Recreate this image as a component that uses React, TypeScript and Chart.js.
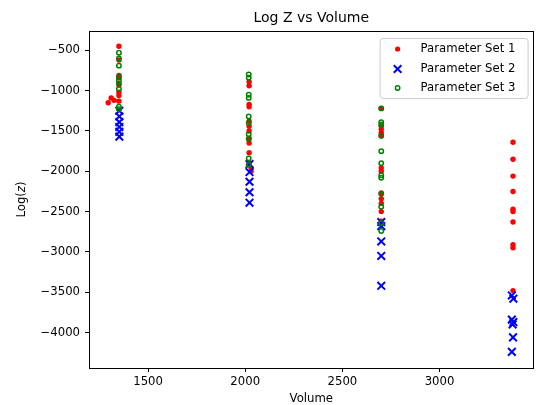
import React, { useEffect, useRef } from 'react';
import { Chart, registerables } from 'chart.js';

Chart.register(...registerables);

const chartTitle = 'Log Z vs Volume';
const xTitle = 'Volume';
const seriesNames = ['Parameter Set 1', 'Parameter Set 2', 'Parameter Set 3'];
const xTicks = [1500, 2000, 2500, 3000];
const yTicks = [-4000, -3500, -3000, -2500, -2000, -1500, -1000, -500];

const set1Volume = [
  1350, 1350, 1350, 1350, 1350, 1350, 1350, 1350, 1295, 1310, 1325,
  2020, 2020, 2020, 2020, 2020, 2020, 2020, 2020, 2020, 2020, 2020, 2030, 2030,
  2700, 2700, 2700, 2700, 2700, 2700, 2700, 2700, 2700, 2700, 2700, 2700,
  3378, 3378, 3378, 3378, 3378, 3378, 3378, 3378, 3378, 3378,
];
const set1LogZ = [
  -450, -620, -810, -840, -930, -1020, -1060, -1130, -1150, -1090, -1120,
  -890, -940, -1170, -1200, -1380, -1440, -1500, -1590, -1650, -1770, -1900, -1960, -2000,
  -1220, -1440, -1480, -1520, -1560, -1960, -2000, -2270, -2340, -2400, -2500, -2620,
  -1640, -1850, -2060, -2250, -2470, -2500, -2630, -2910, -2950, -3480,
];

const set2Volume = [
  1352, 1352, 1352, 1352, 1352, 1352,
  2022, 2022, 2022, 2022, 2022,
  2700, 2700, 2700, 2700, 2700,
  3372, 3380, 3372, 3380, 3376, 3378, 3372,
];
const set2LogZ = [
  -1250, -1320, -1390, -1450, -1510, -1570,
  -1910, -2010, -2130, -2260, -2390,
  -2630, -2680, -2870, -3050, -3420,
  -3540, -3580, -3840, -3870, -3900, -4060, -4240,
];

const set3Volume = [
  1350, 1350, 1350, 1350, 1350, 1350, 1350, 1350, 1350,
  2018, 2018, 2018, 2018, 2018, 2018, 2018, 2018, 2018, 2018,
  2700, 2700, 2700, 2700, 2700, 2700, 2700, 2700, 2700, 2700, 2700, 2700,
];
const set3LogZ = [
  -530, -600, -690, -830, -870, -910, -980, -1200, -1230,
  -800, -840, -1050, -1090, -1320, -1400, -1540, -1600, -1840, -1920,
  -1220, -1390, -1420, -1560, -1750, -1900, -2050, -2080, -2280, -2440, -2640, -2740,
];

const FONT = "'DejaVu Sans', sans-serif";
const RED = '#ff0000';
const BLUE = '#0000ff';
const GREEN = '#008000';

function toPoints(xs: number[], ys: number[]) {
  return xs.map((x, i) => ({ x, y: ys[i] }));
}

function fmt(v: number) {
  return String(v).replace('-', '\u2212');
}

export default function App() {
  const ref = useRef<HTMLCanvasElement>(null);

  useEffect(() => {
    document.body.style.margin = '0';
    const canvas = ref.current;
    if (!canvas) return;

    const decorPlugin = {
      id: 'decor',
      afterDraw(chart: any) {
        const { ctx, chartArea } = chart;
        const { left, right, top, bottom } = chartArea;
        ctx.save();
        ctx.strokeStyle = '#000';
        ctx.lineWidth = 1;
        ctx.strokeRect(Math.round(left) + 0.5, Math.round(top) + 0.5, Math.round(right - left) - 1, Math.round(bottom - top));

        ctx.fillStyle = '#000';
        ctx.font = `14px ${FONT}`;
        ctx.textAlign = 'center';
        ctx.textBaseline = 'middle';
        ctx.fillText(chartTitle, (left + right) / 2, 18);

        ctx.font = `11.7px ${FONT}`;
        ctx.fillText(xTitle, (left + right) / 2, 399);

        ctx.translate(22, (top + bottom) / 2);
        ctx.rotate(-Math.PI / 2);
        const parts = [
          { t: 'Log(', f: `11.7px ${FONT}` },
          { t: 'z', f: `oblique 11.7px ${FONT}` },
          { t: ')', f: `11.7px ${FONT}` },
        ];
        let total = 0;
        parts.forEach((p) => { ctx.font = p.f; total += ctx.measureText(p.t).width; });
        let cx = -total / 2;
        ctx.textAlign = 'left';
        parts.forEach((p) => {
          ctx.font = p.f;
          ctx.fillText(p.t, cx, 0);
          cx += ctx.measureText(p.t).width;
        });
        ctx.restore();

        ctx.save();
        const w = 148;
        const h = 60;
        const lx = right - 6 - w;
        const ly = top + 7;
        ctx.beginPath();
        if ((ctx as any).roundRect) (ctx as any).roundRect(lx + 0.5, ly + 0.5, w, h, 3);
        else ctx.rect(lx + 0.5, ly + 0.5, w, h);
        ctx.fillStyle = 'rgba(255,255,255,0.8)';
        ctx.fill();
        ctx.strokeStyle = '#cccccc';
        ctx.lineWidth = 1;
        ctx.stroke();
        const rows = [ly + 11, ly + 31, ly + 50];
        const mx = lx + 18;
        ctx.fillStyle = RED;
        ctx.beginPath();
        ctx.arc(mx, rows[0], 2.6, 0, Math.PI * 2);
        ctx.fill();
        ctx.strokeStyle = BLUE;
        ctx.lineWidth = 2;
        ctx.beginPath();
        ctx.moveTo(mx - 3.8, rows[1] - 3.8);
        ctx.lineTo(mx + 3.8, rows[1] + 3.8);
        ctx.moveTo(mx - 3.8, rows[1] + 3.8);
        ctx.lineTo(mx + 3.8, rows[1] - 3.8);
        ctx.stroke();
        ctx.strokeStyle = GREEN;
        ctx.lineWidth = 1.5;
        ctx.beginPath();
        ctx.arc(mx, rows[2], 2.2, 0, Math.PI * 2);
        ctx.stroke();
        ctx.fillStyle = '#000';
        ctx.font = `11.7px ${FONT}`;
        ctx.textAlign = 'left';
        ctx.textBaseline = 'middle';
        seriesNames.forEach((n, i) => ctx.fillText(n, lx + 41, rows[i]));
        ctx.restore();
      },
    };

    const chart = new Chart(canvas, {
      type: 'scatter',
      data: {
        datasets: [
          {
            label: seriesNames[0],
            data: toPoints(set1Volume, set1LogZ),
            pointStyle: 'circle',
            pointRadius: 2.7,
            backgroundColor: RED,
            borderColor: RED,
            borderWidth: 0,
            order: 3,
          },
          {
            label: seriesNames[1],
            data: toPoints(set2Volume, set2LogZ),
            pointStyle: 'crossRot',
            pointRadius: 5.4,
            backgroundColor: BLUE,
            borderColor: BLUE,
            borderWidth: 2,
            order: 2,
          },
          {
            label: seriesNames[2],
            data: toPoints(set3Volume, set3LogZ),
            pointStyle: 'circle',
            pointRadius: 2.2,
            backgroundColor: 'rgba(0,0,0,0)',
            borderColor: GREEN,
            borderWidth: 1.5,
            order: 1,
          },
        ],
      },
      options: {
        responsive: false,
        animation: false,
        events: [],
        layout: { padding: { top: 31, right: 2, bottom: 0, left: 0 } },
        plugins: {
          legend: { display: false },
          tooltip: { enabled: false },
          title: { display: false },
        },
        scales: {
          x: {
            type: 'linear',
            min: 1196,
            max: 3484,
            afterBuildTicks: (s: any) => { s.ticks = xTicks.map((v) => ({ value: v })); },
            afterFit: (s: any) => { s.height = 37; },
            grid: { drawOnChartArea: false, drawTicks: true, tickLength: 4, color: '#000' },
            border: { display: true, color: '#000' },
            ticks: { color: '#000', font: { family: FONT, size: 11.7 }, padding: 3, maxRotation: 0, callback: (v: any) => fmt(v) },
          },
          y: {
            type: 'linear',
            min: -4440,
            max: -260,
            afterBuildTicks: (s: any) => { s.ticks = yTicks.map((v) => ({ value: v })); },
            afterFit: (s: any) => { s.width = 89; },
            grid: { drawOnChartArea: false, drawTicks: true, tickLength: 4, color: '#000' },
            border: { display: true, color: '#000' },
            ticks: { color: '#000', font: { family: FONT, size: 11.7 }, padding: 5, callback: (v: any) => fmt(v) },
          },
        },
      },
      plugins: [decorPlugin],
    });
    return () => chart.destroy();
  }, []);

  return (
    <div style={{ width: 541, height: 405 }}>
      <canvas ref={ref} width={541} height={405} style={{ display: 'block' }} />
    </div>
  );
}
